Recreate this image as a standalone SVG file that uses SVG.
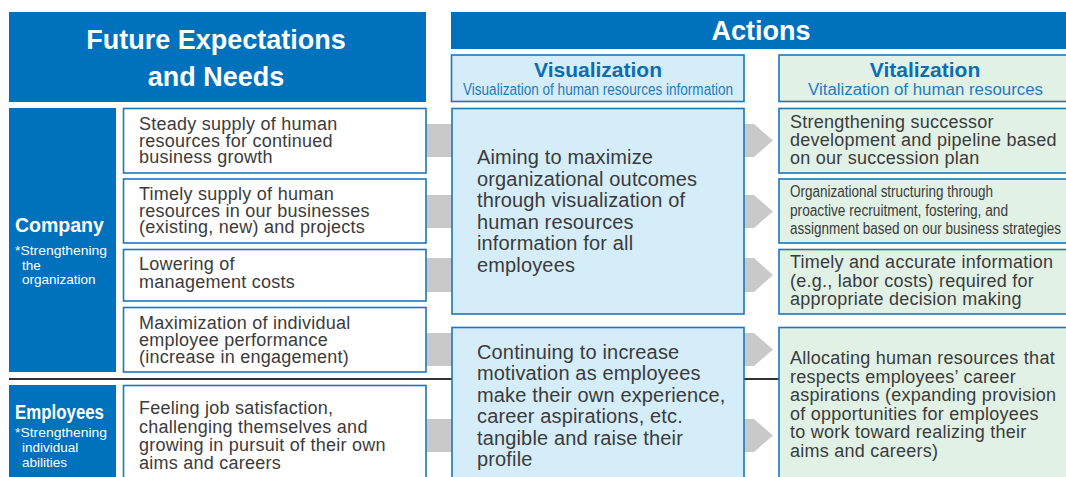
<svg xmlns="http://www.w3.org/2000/svg" width="1066" height="477" viewBox="0 0 1066 477">
<style>
.hdr{fill:#0071bc}
.box{fill:#ffffff;stroke:#1b77bd;stroke-width:1.6}
.vis{fill:#d5ecf9;stroke:#1b77bd;stroke-width:1.6}
.vit{fill:#e1f1e6;stroke:#1b77bd;stroke-width:1.6}
.side{fill:#0071bc}
.bar{fill:#c9c9c9}
.t{font-family:"Liberation Sans",Arial,sans-serif;fill:#3b3b3b;font-size:18px;letter-spacing:0.25px}
.tv{font-family:"Liberation Sans",Arial,sans-serif;fill:#3b3b3b;font-size:20px;letter-spacing:0.15px}
.tc{font-family:"Liberation Sans",Arial,sans-serif;fill:#3b3b3b;font-size:16px}
.wh{font-family:"Liberation Sans",Arial,sans-serif;fill:#ffffff;font-weight:bold}
.ws{font-family:"Liberation Sans",Arial,sans-serif;fill:#ffffff;font-size:13.5px}
.st{font-family:"Liberation Sans",Arial,sans-serif;fill:#0b6db5;font-weight:bold;font-size:21px}
.ss{font-family:"Liberation Sans",Arial,sans-serif;fill:#1f7cc0;font-size:16px}
</style>
<rect width="1066" height="477" fill="#ffffff"/>
<line x1="9" y1="379" x2="1066" y2="379" stroke="#333333" stroke-width="1.8"/>
<g id="connectors">
<rect class="bar" x="424" y="124" width="30" height="33"/>
<rect class="bar" x="424" y="195" width="30" height="33"/>
<rect class="bar" x="424" y="258" width="30" height="34"/>
<rect class="bar" x="424" y="333" width="30" height="33"/>
<rect class="bar" x="424" y="419" width="30" height="33"/>
<polygon class="bar" points="744,124 754,124 773,140.5 754,157 744,157"/>
<polygon class="bar" points="744,195 754,195 773,211.5 754,228 744,228"/>
<polygon class="bar" points="744,258 754,258 773,275 754,292 744,292"/>
<polygon class="bar" points="744,333 754,333 773,349.5 754,366 744,366"/>
<polygon class="bar" points="744,419 754,419 773,435.5 754,452 744,452"/>
</g>
<g id="header-needs">
<rect class="hdr" x="9" y="12" width="417" height="90"/>
<text class="wh" x="216" y="49" font-size="27" text-anchor="middle">Future Expectations</text>
<text class="wh" x="216" y="86" font-size="27" text-anchor="middle">and Needs</text>
</g>
<g id="header-actions">
<rect class="hdr" x="451" y="12" width="620" height="37"/>
<text class="wh" x="761" y="40" font-size="27" text-anchor="middle">Actions</text>
</g>
<g id="sub-visualization">
<rect class="vis" x="451.5" y="55" width="292.5" height="46.5"/>
<text class="st" x="598" y="77" text-anchor="middle">Visualization</text>
<text class="ss" x="598" y="95" text-anchor="middle" textLength="270" lengthAdjust="spacingAndGlyphs">Visualization of human resources information</text>
</g>
<g id="sub-vitalization">
<rect class="vit" x="779" y="55" width="295" height="46.5"/>
<text class="st" x="925" y="77" text-anchor="middle">Vitalization</text>
<text class="ss" x="925.5" y="95" text-anchor="middle" textLength="235" lengthAdjust="spacingAndGlyphs">Vitalization of human resources</text>
</g>
<g id="company">
<rect class="side" x="9" y="108" width="107" height="264"/>
<text class="wh" x="15" y="232" font-size="19.5">Company</text>
<text class="ws" x="15" y="255" textLength="92" lengthAdjust="spacingAndGlyphs">*Strengthening</text>
<text class="ws" x="22" y="269.5">the</text>
<text class="ws" x="22" y="284">organization</text>
</g>
<g id="employees">
<rect class="side" x="9" y="385" width="107" height="100"/>
<text class="wh" x="15" y="419" font-size="19.5" textLength="89" lengthAdjust="spacingAndGlyphs">Employees</text>
<text class="ws" x="15" y="437" textLength="92" lengthAdjust="spacingAndGlyphs">*Strengthening</text>
<text class="ws" x="22" y="452">individual</text>
<text class="ws" x="22" y="467">abilities</text>
</g>
<g id="need-1">
<rect class="box" x="123.5" y="108.5" width="302.5" height="64.5"/>
<text class="t" x="139"><tspan x="139" y="129.5">Steady supply of human</tspan><tspan x="139" y="146.5">resources for continued</tspan><tspan x="139" y="163.3">business growth</tspan></text>
</g>
<g id="need-2">
<rect class="box" x="123.5" y="179" width="302.5" height="64"/>
<text class="t" x="139"><tspan x="139" y="199.5">Timely supply of human</tspan><tspan x="139" y="216.5">resources in our businesses</tspan><tspan x="139" y="233.3">(existing, new) and projects</tspan></text>
</g>
<g id="need-3">
<rect class="box" x="123.5" y="249.5" width="302.5" height="51.5"/>
<text class="t" x="139"><tspan x="139" y="270">Lowering of</tspan><tspan x="139" y="288">management costs</tspan></text>
</g>
<g id="need-4">
<rect class="box" x="123.5" y="307.5" width="302.5" height="64.5"/>
<text class="t" x="139"><tspan x="139" y="328.5">Maximization of individual</tspan><tspan x="139" y="345.7">employee performance</tspan><tspan x="139" y="362.5">(increase in engagement)</tspan></text>
</g>
<g id="need-5">
<rect class="box" x="123.5" y="385.5" width="302.5" height="100"/>
<text class="t" x="139"><tspan x="139" y="414">Feeling job satisfaction,</tspan><tspan x="139" y="432.5">challenging themselves and</tspan><tspan x="139" y="451">growing in pursuit of their own</tspan><tspan x="139" y="469">aims and careers</tspan></text>
</g>
<g id="vis-1">
<rect class="vis" x="452" y="108.5" width="292" height="205.5"/>
<text class="tv" x="477"><tspan x="477" y="164">Aiming to maximize</tspan><tspan x="477" y="185.6">organizational outcomes</tspan><tspan x="477" y="207.2">through visualization of</tspan><tspan x="477" y="228.8">human resources</tspan><tspan x="477" y="250.4">information for all</tspan><tspan x="477" y="272">employees</tspan></text>
</g>
<g id="vis-2">
<rect class="vis" x="452" y="327.5" width="292" height="160"/>
<text class="tv" x="477"><tspan x="477" y="358.5">Continuing to increase</tspan><tspan x="477" y="380">motivation as employees</tspan><tspan x="477" y="401.5">make their own experience,</tspan><tspan x="477" y="423">career aspirations, etc.</tspan><tspan x="477" y="444.5">tangible and raise their</tspan><tspan x="477" y="466">profile</tspan></text>
</g>
<g id="vit-1">
<rect class="vit" x="779" y="108.5" width="295" height="64.5"/>
<text class="t" x="790"><tspan x="790" y="127.5">Strengthening successor</tspan><tspan x="790" y="145.8">development and pipeline based</tspan><tspan x="790" y="164">on our succession plan</tspan></text>
</g>
<g id="vit-2">
<rect class="vit" x="779" y="179" width="295" height="64"/>
<text class="tc" x="790" y="197" textLength="203" lengthAdjust="spacingAndGlyphs">Organizational structuring through</text>
<text class="tc" x="790" y="215.5" textLength="218" lengthAdjust="spacingAndGlyphs">proactive recruitment, fostering, and</text>
<text class="tc" x="790" y="234" textLength="271" lengthAdjust="spacingAndGlyphs">assignment based on our business strategies</text>
</g>
<g id="vit-3">
<rect class="vit" x="779" y="249.5" width="295" height="64.5"/>
<text class="t" x="790"><tspan x="790" y="268">Timely and accurate information</tspan><tspan x="790" y="286.5">(e.g., labor costs) required for</tspan><tspan x="790" y="305">appropriate decision making</tspan></text>
</g>
<g id="vit-4">
<rect class="vit" x="779" y="327.5" width="295" height="160"/>
<text class="t" x="790"><tspan x="790" y="364">Allocating human resources that</tspan><tspan x="790" y="382.6">respects employees’ career</tspan><tspan x="790" y="401.2">aspirations (expanding provision</tspan><tspan x="790" y="419.8">of opportunities for employees</tspan><tspan x="790" y="438.4">to work toward realizing their</tspan><tspan x="790" y="457">aims and careers)</tspan></text>
</g>
</svg>
